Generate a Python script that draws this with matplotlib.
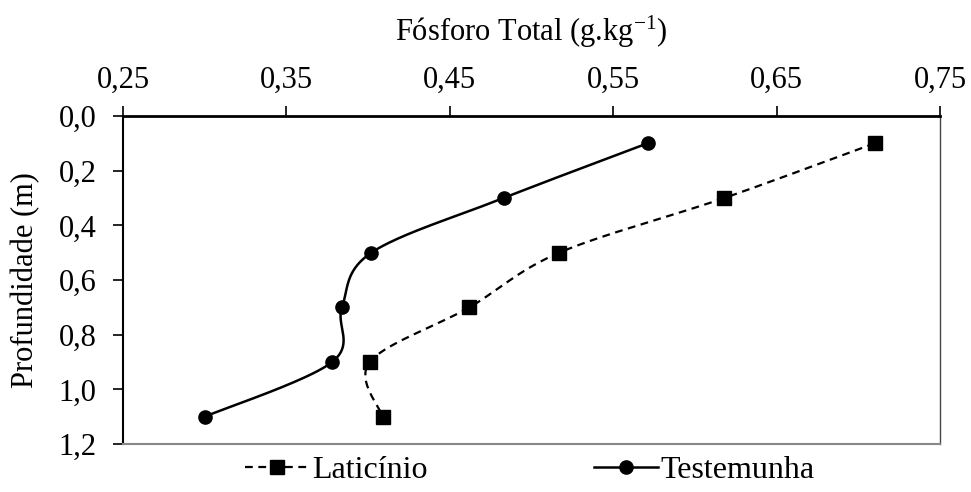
import numpy as np
import matplotlib
matplotlib.use("Agg")
import matplotlib.pyplot as plt
from matplotlib.ticker import FuncFormatter
from matplotlib.lines import Line2D

plt.rcParams['font.family'] = ['Liberation Serif', 'DejaVu Serif']
plt.rcParams['mathtext.fontset'] = 'custom'
plt.rcParams['mathtext.rm'] = 'Liberation Serif'
plt.rcParams['mathtext.it'] = 'Liberation Serif:italic'
plt.rcParams['mathtext.bf'] = 'Liberation Serif:bold'

depth = [0.1, 0.3, 0.5, 0.7, 0.9, 1.1]
laticinio = [0.710, 0.618, 0.517, 0.462, 0.401, 0.409]
testemunha = [0.571, 0.483, 0.402, 0.384, 0.378, 0.300]
xticks = [0.25, 0.35, 0.45, 0.55, 0.65, 0.75]
yticks = [0.0, 0.2, 0.4, 0.6, 0.8, 1.0, 1.2]

FS = 22
W, H = 971, 492
fig = plt.figure(figsize=(W/100, H/100), dpi=100)
ax = fig.add_axes([123/W, 1-444/H, (940-123)/W, (444-116)/H])
ax.set_xlim(0.25, 0.75)
ax.set_ylim(1.2, 0.0)

sx = (940-123)/0.5
sy = (444-116)/1.2

def smooth(xs, ys, n=40):
    P = np.column_stack([np.array(xs)*sx, np.array(ys)*sy])
    out = []
    m = len(P)
    for i in range(m-1):
        p0 = P[i-1] if i > 0 else P[i]
        p1 = P[i]
        p2 = P[i+1]
        p3 = P[i+2] if i+2 < m else P[i+1]
        c1 = p1 + (p2 - p0)/6
        c2 = p2 - (p3 - p1)/6
        t = np.linspace(0, 1, n)[:, None]
        seg = ((1-t)**3)*p1 + 3*((1-t)**2)*t*c1 + 3*(1-t)*t**2*c2 + t**3*p2
        out.append(seg if i == 0 else seg[1:])
    C = np.vstack(out)
    return C[:, 0]/sx, C[:, 1]/sy

DASH = (0, (3.5, 2.5))
lx, ly = smooth(laticinio, depth)
tx, ty = smooth(testemunha, depth)
ax.plot(lx, ly, color='black', lw=1.6, ls=DASH, zorder=2)
ax.plot(tx, ty, color='black', lw=1.8, ls='-', zorder=2)
ax.plot(laticinio, depth, ls='none', marker='s', ms=9.5, color='black', zorder=3)
ax.plot(testemunha, depth, ls='none', marker='o', ms=9.5, color='black', zorder=3)

h1 = Line2D([], [], color='black', lw=1.6, ls=DASH, marker='s', ms=9.5)
h2 = Line2D([], [], color='black', lw=1.8, ls='-', marker='o', ms=9.5)
fig.legend([h1, h2], ['Laticínio', 'Testemunha'], loc='center', bbox_to_anchor=(530/W, 1-470/H),
           ncol=2, frameon=False, fontsize=23, columnspacing=5.2, handlelength=2.0,
           handletextpad=0.1, borderpad=0)

ax.xaxis.tick_top()
ax.xaxis.set_label_position('top')
ax.set_xticks(xticks)
ax.set_yticks(yticks)
fmt2 = FuncFormatter(lambda v, p: f"{v:.2f}".replace('.', ','))
fmt1 = FuncFormatter(lambda v, p: f"{v:.1f}".replace('.', ','))
ax.xaxis.set_major_formatter(fmt2)
ax.yaxis.set_major_formatter(fmt1)
ax.tick_params(axis='x', direction='out', length=7, width=1.2, labelsize=FS, pad=8, top=True, bottom=False)
ax.tick_params(axis='y', direction='out', length=7, width=1.2, labelsize=FS, pad=12)
ax.set_xlabel('Fósforo Total (g.kg$^{-1}$)', fontsize=FS, labelpad=18)
ax.set_ylabel('Profundidade (m)', fontsize=FS, labelpad=13)

ax.spines['top'].set_linewidth(2.0)
ax.spines['left'].set_linewidth(1.5)
ax.spines['right'].set_linewidth(1.0)
ax.spines['right'].set_color('#444444')
ax.spines['bottom'].set_linewidth(1.5)
ax.spines['bottom'].set_color('#888888')

fig.savefig('out.png', dpi=100)
